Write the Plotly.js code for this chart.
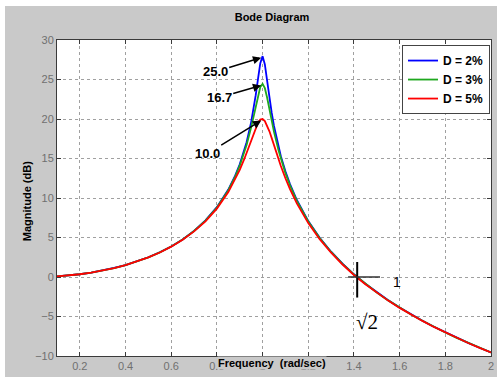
<!DOCTYPE html>
<html>
<head>
<meta charset="utf-8">
<script src="https://cdn.plot.ly/plotly-3.0.1.min.js"></script>
<style>html,body{margin:0;padding:0;background:#fff;}#chart{width:497px;height:377px;}</style>
</head>
<body>
<div id="chart"></div>
<script>
// Frequency samples (rad/sec)
const freq = [0.1, 0.15, 0.2, 0.25, 0.3, 0.35, 0.4, 0.45, 0.5, 0.55, 0.6, 0.65, 0.7, 0.75, 0.8, 0.85, 0.88, 0.9,
              0.92, 0.93, 0.95, 0.96, 0.97, 0.98, 0.99, 1.0, 1.01, 1.02, 1.03, 1.04, 1.05, 1.07, 1.08, 1.1,
              1.12, 1.15, 1.2, 1.25, 1.3, 1.35, 1.4, 1.45, 1.5, 1.55, 1.6, 1.65, 1.7, 1.75, 1.8, 1.85, 1.9, 1.95, 2.0];
// Magnitude (dB)
const magD2 = [0.09, 0.20, 0.35, 0.56, 0.82, 1.14, 1.51, 1.97, 2.50, 3.13, 3.87, 4.76, 5.84, 7.16, 8.84, 11.07, 12.83, 14.27,
               16.03, 17.07, 19.61, 21.18, 23.01, 25.08, 27.07, 27.96, 26.91, 24.82, 22.67, 20.76, 19.11, 16.42, 15.29, 13.37,
               11.76, 9.74, 7.08, 4.96, 3.20, 1.68, 0.34, -0.86, -1.95, -2.95, -3.87, -4.73, -5.53, -6.30, -7.01, -7.69, -8.34, -8.96, -9.55];
const magD3 = [0.09, 0.20, 0.35, 0.56, 0.82, 1.13, 1.51, 1.96, 2.49, 3.12, 3.86, 4.75, 5.82, 7.13, 8.80, 10.99, 12.70, 14.09,
               15.74, 16.70, 18.94, 20.24, 21.62, 22.99, 24.06, 24.44, 23.90, 22.69, 21.23, 19.77, 18.39, 16.00, 14.96, 13.15,
               11.60, 9.64, 7.02, 4.92, 3.17, 1.66, 0.32, -0.88, -1.96, -2.96, -3.88, -4.74, -5.54, -6.31, -7.02, -7.70, -8.35, -8.96, -9.55];
const magD5 = [0.09, 0.20, 0.35, 0.56, 0.81, 1.13, 1.50, 1.95, 2.48, 3.10, 3.84, 4.71, 5.77, 7.05, 8.66, 10.75, 12.32, 13.55,
               14.94, 15.70, 17.32, 18.14, 18.89, 19.52, 19.92, 20.00, 19.74, 19.19, 18.44, 17.58, 16.67, 14.89, 14.05, 12.50,
               11.12, 9.31, 6.82, 4.79, 3.07, 1.58, 0.26, -0.92, -2.00, -2.99, -3.91, -4.76, -5.56, -6.32, -7.03, -7.71, -8.36, -8.97, -9.56];
const seriesNames = ["D = 2%", "D = 3%", "D = 5%"];
const peakLabels = ["25.0", "16.7", "10.0"];
const xTicks = [0.2, 0.4, 0.6, 0.8, 1.0, 1.2, 1.4, 1.6, 1.8, 2.0];
const xTickText = ["0.2", "0.4", "0.6", "0.8", "1", "1.2", "1.4", "1.6", "1.8", "2"];
const yTicks = [-10, -5, 0, 5, 10, 15, 20, 25, 30];

const colors = ["#0000ff", "#1fa81f", "#ff0000"];
const series = [magD2, magD3, magD5];

const traces = series.map((ys, i) => ({
  x: freq, y: ys, type: "scatter", mode: "lines", name: seriesNames[i],
  line: {color: colors[i], width: 1.8}
}));

const font = "Arial, 'Liberation Sans', sans-serif";
const gray = "#c9c9c9";

// peak annotations
const offsets = [[-46, 14], [-42, 12], [-54, 33]];
const annotations = series.map((ys, i) => {
  let k = ys.indexOf(Math.max(...ys));
  return {
    x: freq[k] - 0.006, y: ys[k] - 0.2, xref: "x", yref: "y",
    text: "<b>" + peakLabels[i] + "</b>", showarrow: true,
    ax: offsets[i][0], ay: offsets[i][1],
    arrowhead: 2, arrowsize: 1.1, arrowwidth: 1.5, arrowcolor: "#000",
    font: {family: font, size: 13, color: "#000"}
  };
});

annotations.push({
  xref: "paper", yref: "paper", x: 0.4954, y: -0.023, xanchor: "center", yanchor: "middle",
  text: "<b>Frequency  (rad/sec)</b>", showarrow: false, bgcolor: gray, borderpad: 0,
  font: {family: font, size: 11, color: "#000"}
});
annotations.push({
  xref: "paper", yref: "paper", x: -0.069, y: 0.49, xanchor: "center", yanchor: "middle",
  text: "<b>Magnitude (dB)</b>", textangle: -90, showarrow: false,
  font: {family: font, size: 11, color: "#000"}
});
// sqrt(2) marker labels
const crossX = Math.SQRT2;
annotations.push({
  xref: "x", yref: "y", x: crossX + 0.175, y: -0.6, text: "1", showarrow: false,
  font: {family: font, size: 14, color: "#000000"}
});
annotations.push({
  xref: "x", yref: "y", x: crossX + 0.045, y: -5.7, text: "√2", showarrow: false,
  font: {family: "'Liberation Serif', 'DejaVu Serif', serif", size: 21, color: "#000000"}
});

const shapes = [
  {type: "line", xref: "x", yref: "y", x0: crossX, x1: crossX, y0: 1.9, y1: -2.6,
   line: {color: "#000", width: 2}},
  {type: "line", xref: "x", yref: "y", x0: crossX - 0.04, x1: crossX + 0.10, y0: 0, y1: 0,
   line: {color: "#333", width: 1.3}},
  // white strips at the image's top and left edge
  {type: "rect", xref: "paper", yref: "paper", x0: -0.14, x1: -0.1198, y0: -0.1, y1: 1.2,
   line: {width: 0}, fillcolor: "#fff", layer: "above"},
  {type: "rect", xref: "paper", yref: "paper", x0: -0.14, x1: 1.05, y0: 1.1077, y1: 1.2,
   line: {width: 0}, fillcolor: "#fff", layer: "above"}
];

const axisCommon = {
  showline: true, linecolor: "#3a3a3a", linewidth: 1, mirror: "ticks",
  ticks: "inside", ticklen: 4, tickcolor: "#3a3a3a",
  showgrid: true, gridcolor: "#a0a0a0", griddash: "dot", gridwidth: 1,
  zeroline: false, tickfont: {family: font, size: 11, color: "#707070"}
};

const layout = {
  width: 497, height: 377,
  margin: {l: 57, r: 6, t: 40, b: 21},
  paper_bgcolor: gray, plot_bgcolor: "#fff",
  title: {text: "<b>Bode Diagram</b>", xref: "paper", x: 0.4954, xanchor: "center",
          yref: "container", y: 0.955, yanchor: "middle",
          font: {family: font, size: 11, color: "#000"}},
  xaxis: Object.assign({}, axisCommon, {range: [0.1, 2], tickvals: xTicks, ticktext: xTickText}),
  yaxis: Object.assign({}, axisCommon, {range: [-10, 30], tickvals: yTicks}),
  showlegend: true,
  legend: {x: 0.9977, xanchor: "right", y: 0.984, yanchor: "top",
           bgcolor: "#fff", bordercolor: "#444", borderwidth: 1,
           font: {family: font, size: 12, color: "#000", weight: "bold"},
           tracegroupgap: 0, itemwidth: 30},
  annotations: annotations,
  shapes: shapes
};

Plotly.newPlot("chart", traces, layout, {displayModeBar: false, staticPlot: true});
</script>
</body>
</html>
